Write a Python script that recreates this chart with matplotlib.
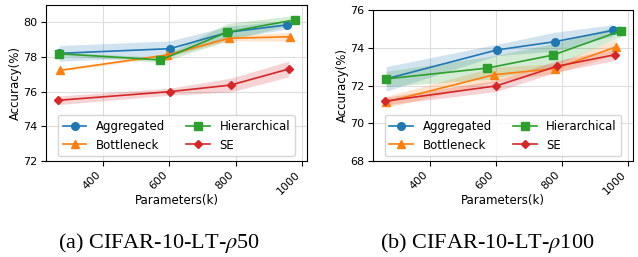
import numpy as np
import matplotlib
matplotlib.use("Agg")
import matplotlib.pyplot as plt

# parameter counts (k) per model
agg_params = [267, 602, 778, 955]
bot_params = [268, 594, 780, 965]
hie_params = [267, 573, 773, 980]
se_params = [263, 601, 785, 961]

# CIFAR-10-LT rho50
agg_50 = [78.21, 78.48, 79.43, 79.85]
bot_50 = [77.23, 78.12, 79.08, 79.17]
hie_50 = [78.19, 77.83, 79.42, 80.15]
se_50 = [75.50, 76.00, 76.38, 77.31]
agg_50_std = [0.45, 0.45, 0.35, 0.25]
bot_50_std = [0.06, 0.10, 0.15, 0.25]
hie_50_std = [0.10, 0.15, 0.50, 0.25]
se_50_std = [0.25, 0.20, 0.40, 0.45]

# CIFAR-10-LT rho100
agg_100 = [72.35, 73.88, 74.32, 74.92]
bot_100 = [71.13, 72.57, 72.90, 74.05]
hie_100 = [72.35, 72.92, 73.61, 74.90]
se_100 = [71.17, 71.98, 73.02, 73.63]
agg_100_std = [0.65, 0.30, 0.50, 0.30]
bot_100_std = [0.30, 0.40, 0.25, 0.40]
hie_100_std = [0.40, 0.60, 0.60, 0.30]
se_100_std = [0.20, 0.30, 0.30, 0.30]

names = ["Aggregated", "Bottleneck", "Hierarchical", "SE"]
markers = ["o", "^", "s", "D"]
colors = ["tab:blue", "tab:orange", "tab:green", "tab:red"]
params = [agg_params, bot_params, hie_params, se_params]

plt.rcParams["mathtext.fontset"] = "stix"

fig = plt.figure(figsize=(6.38, 2.57), dpi=100)
ax1 = fig.add_axes([46 / 638, 1 - 161 / 257, 261 / 638, 156 / 257])
ax2 = fig.add_axes([373 / 638, 1 - 161 / 257, 260 / 638, 151 / 257])


def draw(ax, means, stds, ylim, yticks):
    for i in range(4):
        x = np.array(params[i])
        y = np.array(means[i])
        s = np.array(stds[i])
        ax.plot(x, y, marker=markers[i], color=colors[i], label=names[i],
                linewidth=1.2, markersize=4.5 if markers[i] == "D" else 5.5)
        ax.fill_between(x, y - s, y + s, color=colors[i], alpha=0.2, linewidth=0)
    ax.set_ylim(ylim)
    ax.set_yticks(yticks)
    ax.set_xticks([400, 600, 800, 1000])
    ax.grid(True, color="#dddddd", linewidth=0.8)
    ax.set_axisbelow(True)
    ax.tick_params(labelsize=8, pad=2.5)
    for lab in ax.get_xticklabels():
        lab.set_rotation(45)
        lab.set_ha("right")
    ax.set_xlabel("Parameters(k)", fontsize=8.5, labelpad=-1.5)
    ax.set_ylabel("Accuracy(%)", fontsize=8.5, labelpad=1)
    ax.legend(loc="lower center", ncol=2, fontsize=8.5, columnspacing=1.8,
              borderaxespad=0.4)


draw(ax1, [agg_50, bot_50, hie_50, se_50],
     [agg_50_std, bot_50_std, hie_50_std, se_50_std], (72, 81), [72, 74, 76, 78, 80])
draw(ax2, [agg_100, bot_100, hie_100, se_100],
     [agg_100_std, bot_100_std, hie_100_std, se_100_std], (68, 76), [68, 70, 72, 74, 76])

fig.text(159 / 638, 1 - 243 / 257, r"(a) CIFAR-10-LT-$\rho$50", ha="center", va="center",
         fontsize=16, family="Liberation Serif")
fig.text(487 / 638, 1 - 243 / 257, r"(b) CIFAR-10-LT-$\rho$100", ha="center", va="center",
         fontsize=16, family="Liberation Serif")

fig.savefig("out.png", dpi=100)
